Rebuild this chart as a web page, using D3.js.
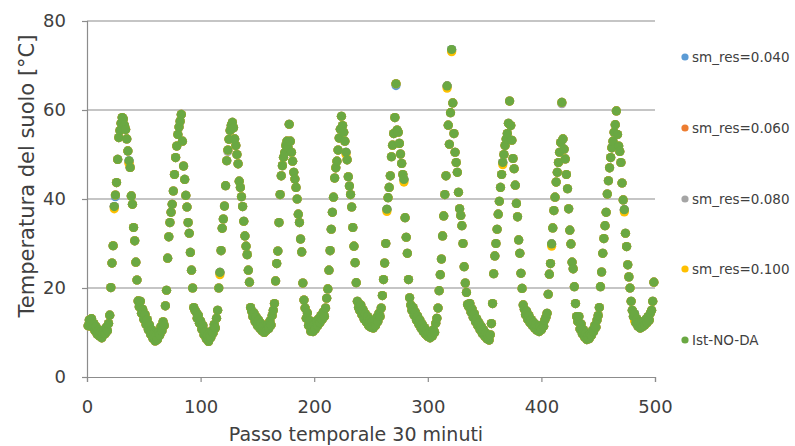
<!DOCTYPE html>
<html>
<head>
<meta charset="utf-8">
<script src="https://cdn.jsdelivr.net/npm/d3@7"></script>
<style>
  body { margin: 0; background: #ffffff; }
  svg { display: block; }
</style>
</head>
<body>
<svg id="chart" width="795" height="446"></svg>
<script>
// Axis ticks
const xTicks = [0, 100, 200, 300, 400, 500];
const yTicks = [0, 20, 40, 60, 80];

// Series
const seriesNames  = ["sm_res=0.040", "sm_res=0.060", "sm_res=0.080", "sm_res=0.100", "Ist-NO-DA"];
const seriesColors = ["#5b9bd5", "#ed7d31", "#a5a5a5", "#ffc000", "#6aa842"];

// Soil temperature (°C) of the open-loop run, one value per 30-minute step, starting at step 1
const day01 = [11.5, 12.8, 11.9, 13.1, 11.2, 12.0, 10.4, 11.3, 9.6, 10.5, 9.2, 10.1, 8.8, 9.9, 10.6, 9.7, 11.2, 10.4, 12.0, 13.9,
               20.1, 25.6, 29.5, 38.3, 40.9, 43.7, 48.9, 53.8, 55.4, 57.0, 58.3, 58.0, 56.6, 55.6, 53.5, 50.8, 48.6, 47.1, 40.7, 38.8, 33.6, 30.6, 25.8, 21.8, 17.1];
const day02 = [15.8, 17.0, 14.3, 15.2, 13.0, 14.1, 11.8, 12.9, 10.6, 11.7, 9.6, 10.6, 8.7, 9.6, 8.1, 9.3, 8.4, 10.2, 9.4, 11.3, 10.4, 12.4, 11.6, 16.0,
               19.5, 26.7, 31.5, 34.7, 37.0, 38.8, 41.8, 45.5, 49.3, 51.9, 54.5, 56.2, 57.5, 59.0, 53.0, 47.4, 44.4, 40.8, 38.2, 34.7, 32.3, 28.0, 24.0, 20.0, 15.6];
const day03 = [15.0, 14.6, 13.2, 13.9, 12.1, 12.6, 10.8, 11.6, 9.5, 10.2, 8.6, 9.4, 8.0, 9.1, 8.9, 10.4, 9.9, 11.8, 11.0, 13.2, 15.0,
               20.0, 23.5, 28.4, 33.4, 35.5, 38.4, 43.0, 48.6, 51.0, 53.4, 55.4, 56.5, 57.2, 56.0, 53.5, 52.0, 50.0, 47.9, 44.0, 42.6, 40.5, 38.3, 35.0, 31.7, 29.4, 27.5, 24.0, 21.3, 15.6];
const day04 = [14.8, 13.6, 14.4, 12.5, 13.5, 11.6, 12.8, 11.0, 12.1, 10.4, 11.4, 10.0, 10.9, 10.5, 11.8, 10.9, 12.6, 11.7, 13.8, 15.0, 16.5,
               21.6, 25.5, 28.3, 34.7, 41.0, 45.2, 47.5, 49.4, 50.4, 52.0, 53.0, 51.5, 56.8, 53.0, 50.5, 48.5, 46.0, 44.5, 42.6, 40.0, 36.6, 34.7, 31.0, 28.1, 21.1, 17.3];
const day05 = [15.5, 13.2, 14.4, 11.6, 12.7, 10.3, 11.5, 10.2, 11.9, 10.8, 12.6, 11.5, 13.1, 12.2, 13.8, 12.9, 14.6, 13.6, 15.5, 17.7,
               19.8, 24.0, 28.4, 33.2, 37.0, 40.4, 44.7, 47.0, 48.5, 51.0, 53.7, 55.7, 58.6, 56.5, 55.0, 53.0, 50.5, 48.8, 45.0, 42.9, 41.0, 38.2, 33.6, 29.4, 25.7, 21.2, 17.0, 15.6];
const day06 = [15.0, 16.2, 14.0, 15.1, 13.0, 14.2, 12.3, 13.6, 11.5, 12.8, 11.2, 12.4, 11.0, 12.6, 11.6, 13.4, 12.5, 14.3, 13.6, 15.5,
               18.3, 21.9, 25.6, 30.0, 37.7, 40.3, 42.6, 45.2, 49.5, 52.1, 54.7, 58.3, 65.9, 55.5, 55.0, 52.5, 50.1, 48.0, 45.5, 44.4, 35.8, 31.4, 27.8, 21.9, 17.8];
const day07 = [16.2, 15.0, 15.6, 13.9, 14.6, 12.8, 13.7, 11.9, 12.8, 11.0, 11.9, 10.2, 11.1, 9.6, 10.4, 9.1, 9.9, 8.8, 9.8, 9.2, 10.6, 10.0, 12.1, 13.2, 15.5,
               19.4, 23.0, 26.5, 31.7, 36.2, 41.0, 45.2, 65.4, 56.6, 52.3, 59.4, 73.6, 61.6, 54.7, 50.5, 48.2, 46.0, 41.5, 37.8, 36.3, 34.0, 30.0, 24.8, 21.1, 19.0, 16.3];
const day08 = [15.8, 16.5, 14.6, 15.3, 13.4, 14.2, 12.4, 13.1, 11.5, 12.2, 10.6, 11.4, 9.8, 10.6, 9.2, 9.9, 8.6, 9.4, 8.3, 9.5, 12.0, 16.5,
               23.2, 27.2, 30.0, 33.2, 36.6, 39.5, 42.6, 45.5, 48.2, 50.0, 52.0, 53.5, 54.7, 57.0, 62.0, 56.5, 53.2, 49.1, 46.8, 43.1, 39.0, 36.0, 30.8, 27.8, 23.3, 19.9, 16.2];
const day09 = [15.2, 14.0, 14.8, 12.9, 13.8, 12.2, 12.9, 11.6, 12.3, 11.0, 11.8, 10.5, 11.3, 10.2, 11.2, 10.6, 11.8, 11.4, 12.8, 13.4, 14.3,
               18.6, 23.1, 25.5, 29.9, 33.5, 37.4, 40.4, 43.8, 46.0, 48.2, 50.5, 52.7, 61.7, 53.5, 51.2, 49.0, 45.5, 42.3, 37.8, 33.0, 29.9, 25.8, 24.3, 20.3, 16.5, 13.6];
const day10 = [12.5, 13.6, 10.8, 11.9, 9.7, 10.6, 9.0, 9.8, 8.4, 9.2, 8.6, 9.6, 9.3, 10.5, 10.2, 11.6, 11.2, 12.8, 13.8,
               15.6, 20.3, 23.6, 27.8, 31.1, 34.0, 37.0, 41.1, 44.1, 47.0, 49.3, 51.5, 53.0, 55.0, 56.7, 59.8, 54.5, 51.9, 50.7, 48.2, 43.6, 39.8, 37.6, 32.3, 29.3, 25.2, 22.5, 20.0, 17.0];
const day11 = [15.0, 13.6, 14.2, 12.2, 13.1, 11.4, 12.3, 11.0, 12.0, 11.3, 12.5, 11.7, 13.0, 12.2, 13.6, 12.8, 14.4, 15.0, 17.0, 21.3];

// Steps where the assimilation runs depart from the open-loop run: [step, °C]
const smRes040Diff = [[25, 40.5], [272, 65.5]];
const smRes060Diff = [[37, 48.2], [321, 73.3]];
const smRes080Diff = [[124, 50.7], [418, 61.4]];
const smRes100Diff = [[24, 37.8], [37, 48.0], [117, 23.0], [228, 50.0], [264, 37.2], [279, 43.8], [317, 64.9], [321, 73.1], [366, 47.7], [409, 29.4], [473, 37.1], [482, 12.6]];

const openLoop = [].concat(day01, day02, day03, day04, day05, day06, day07, day08, day09, day10, day11);

function withDiff(diff) {
  const m = new Map(diff);
  return openLoop.map((v, i) => ({ x: i + 1, y: m.has(i + 1) ? m.get(i + 1) : v }));
}
const seriesData = [
  withDiff(smRes040Diff),
  withDiff(smRes060Diff),
  withDiff(smRes080Diff),
  withDiff(smRes100Diff),
  openLoop.map((v, i) => ({ x: i + 1, y: v }))
];

const svg = d3.select("#chart");
const x = d3.scaleLinear().domain([0, 500]).range([87, 655]);
const y = d3.scaleLinear().domain([0, 80]).range([377, 21]);

const axisColor = "#8c8c8c";
const font = "'DejaVu Sans', sans-serif";
const textColor = "#404040";

// Horizontal gridlines
svg.append("g")
  .selectAll("line")
  .data(yTicks.filter(d => d > 0))
  .join("line")
  .attr("x1", x(0)).attr("x2", x(500))
  .attr("y1", d => y(d)).attr("y2", d => y(d))
  .attr("stroke", axisColor).attr("stroke-width", 1.2);

// Y axis
const yAxis = svg.append("g")
  .attr("transform", `translate(${x(0)},0)`)
  .call(d3.axisLeft(y).tickValues(yTicks).tickSize(5).tickPadding(16));
// X axis
const xAxis = svg.append("g")
  .attr("transform", `translate(0,${y(0)})`)
  .call(d3.axisBottom(x).tickValues(xTicks).tickSize(5).tickPadding(18));

[yAxis, xAxis].forEach(g => {
  g.select(".domain").attr("stroke", axisColor).attr("stroke-width", 1.2);
  g.selectAll(".tick line").attr("stroke", axisColor).attr("stroke-width", 1.2);
  g.selectAll(".tick text")
    .attr("fill", textColor)
    .style("font-family", font)
    .style("font-size", "18px");
});

// Markers, open-loop drawn last so it sits on top
svg.append("g")
  .selectAll("g")
  .data(seriesData)
  .join("g")
  .attr("fill", (d, i) => seriesColors[i])
  .selectAll("circle")
  .data(d => d)
  .join("circle")
  .attr("cx", d => x(d.x))
  .attr("cy", d => y(d.y))
  .attr("r", 4.6);

// Axis titles
svg.append("text")
  .attr("x", 356)
  .attr("y", 441)
  .attr("text-anchor", "middle")
  .attr("fill", textColor)
  .style("font-family", font)
  .style("font-size", "19px")
  .text("Passo temporale 30 minuti");

svg.append("text")
  .attr("transform", "translate(27,176) rotate(-90)")
  .attr("text-anchor", "middle")
  .attr("dy", "0.35em")
  .attr("fill", textColor)
  .style("font-family", font)
  .style("font-size", "21px")
  .text("Temperatura del suolo [°C]");

// Legend
const legendY = [57, 128, 199, 269, 340];
const legend = svg.append("g")
  .selectAll("g")
  .data(seriesNames)
  .join("g")
  .attr("transform", (d, i) => `translate(685,${legendY[i]})`);
legend.append("circle")
  .attr("r", 3.6)
  .attr("fill", (d, i) => seriesColors[i]);
legend.append("text")
  .attr("x", 7)
  .attr("dy", "0.35em")
  .attr("fill", textColor)
  .style("font-family", font)
  .style("font-size", "13.5px")
  .text(d => d);
</script>
</body>
</html>
